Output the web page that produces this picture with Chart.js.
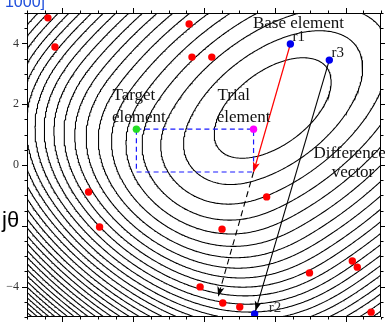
<!DOCTYPE html>
<html><head><meta charset="utf-8">
<script src="https://cdn.jsdelivr.net/npm/chart.js@4/dist/chart.umd.min.js"></script>
<style>html,body{margin:0;padding:0;background:#fff;overflow:hidden}canvas{display:block}</style>
</head><body>
<canvas id="c" width="385" height="322"></canvas>
<script>
// ---- population (red dots) ----
const populationX = [-4.41, -4.21, -0.42, -0.34, 0.22, -3.26, -2.95, 1.77, 0.51, -0.11, 0.53, 1.01, 2.98, 4.19, 4.33, 4.72];
const populationY = [4.84, 3.88, 4.64, 3.55, 3.55, -0.89, -2.04, -1.05, -2.11, -4.01, -4.54, -4.67, -3.55, -3.16, -3.36, -4.84];

// ---- randomly chosen vectors r1, r2, r3 (blue dots) ----
const vectorNames = ['r1', 'r2', 'r3'];
const vectorX = [2.44, 1.43, 3.54];
const vectorY = [3.98, -4.90, 3.45];

// ---- target, trial, mutant and the shifted difference vector end ----
const targetXY = [-1.91, 1.18];
const trialXY = [1.40, 1.18];
const mutantXY = [1.40, -0.23];
const shiftedXY = [0.40, -4.33];

// ---- axis ticks ----
const yTickValues = [-4, -2, 0, 2, 4];

// ---- objective function contour levels ----
const contourLevels = [1.7, 3.3, 4.9, 6.5, 8.1, 9.7, 11.3, 12.9, 14.5, 16.1, 17.7, 19.3, 20.9, 22.5,
  24.1, 25.7, 27.3, 28.9, 30.5, 32.1, 33.7, 35.3, 36.9, 38.5, 40.1, 41.7, 43.3, 44.9, 46.5, 48.1,
  49.7, 51.3, 52.9, 54.5, 56.1, 57.7];

// objective: tilted elliptic bowl, steeper towards the lower-left end of the valley
// and across the valley far from its axis
const CX = 1.94, CY = 1.875, L1 = 0.48, L2 = 1.52, U0 = 2, K3 = 0.3, V0 = 2, K4 = 0.08, P = 0.77;
function objective(x, y) {
  const dx = x - CX, dy = y - CY;
  const u = (dx + dy) / Math.SQRT2, v = (dx - dy) / Math.SQRT2;
  let f = L1 * u * u + L2 * v * v;
  const w = -u - U0;
  if (w > 0) f += K3 * w * w * w;
  const s = Math.abs(v) - V0;
  if (s > 0) f += K4 * s * s * s;
  return Math.pow(f, P);
}

// sample the objective on a grid
const NX = 241, NY = 241, X0 = -5.1, X1 = 5.1, Y0 = -5.1, Y1 = 5.1;
const gx = [], gy = [];
for (let i = 0; i < NX; i++) gx.push(X0 + (X1 - X0) * i / (NX - 1));
for (let j = 0; j < NY; j++) gy.push(Y0 + (Y1 - Y0) * j / (NY - 1));
const grid = new Float64Array(NX * NY);
for (let j = 0; j < NY; j++) for (let i = 0; i < NX; i++) grid[j * NX + i] = objective(gx[i], gy[j]);

// marching squares, chained into polylines
function traceLevel(lev) {
  const adj = new Map();
  const link = (a, b) => {
    if (!adj.has(a)) adj.set(a, []);
    if (!adj.has(b)) adj.set(b, []);
    adj.get(a).push(b); adj.get(b).push(a);
  };
  const H = (i, j) => (j * NX + i) * 2;       // edge (i,j)-(i+1,j)
  const V = (i, j) => (j * NX + i) * 2 + 1;   // edge (i,j)-(i,j+1)
  for (let j = 0; j < NY - 1; j++) {
    for (let i = 0; i < NX - 1; i++) {
      const a = grid[j * NX + i], b = grid[j * NX + i + 1];
      const c = grid[(j + 1) * NX + i + 1], d = grid[(j + 1) * NX + i];
      const idx = (a > lev ? 1 : 0) | (b > lev ? 2 : 0) | (c > lev ? 4 : 0) | (d > lev ? 8 : 0);
      if (idx === 0 || idx === 15) continue;
      const B = H(i, j), T = H(i, j + 1), L = V(i, j), R = V(i + 1, j);
      const ctr = (a + b + c + d) / 4 > lev;
      switch (idx) {
        case 1: case 14: link(L, B); break;
        case 2: case 13: link(B, R); break;
        case 3: case 12: link(L, R); break;
        case 4: case 11: link(R, T); break;
        case 6: case 9: link(B, T); break;
        case 7: case 8: link(L, T); break;
        case 5: if (ctr) { link(L, T); link(B, R); } else { link(L, B); link(R, T); } break;
        case 10: if (ctr) { link(L, B); link(R, T); } else { link(B, R); link(L, T); } break;
      }
    }
  }
  const point = (k) => {
    const e = k >> 1, i = e % NX, j = Math.floor(e / NX);
    if (k & 1) {
      const a = grid[j * NX + i], b = grid[(j + 1) * NX + i], t = (lev - a) / (b - a);
      return { x: gx[i], y: gy[j] + t * (gy[j + 1] - gy[j]) };
    }
    const a = grid[j * NX + i], b = grid[j * NX + i + 1], t = (lev - a) / (b - a);
    return { x: gx[i] + t * (gx[i + 1] - gx[i]), y: gy[j] };
  };
  const used = new Set(), lines = [];
  const walk = (start) => {
    const line = [start]; used.add(start);
    let prev = -1, cur = start;
    for (;;) {
      const nb = adj.get(cur);
      let next = -1;
      for (const n of nb) if (n !== prev && !used.has(n)) { next = n; break; }
      if (next < 0) { if (nb.includes(start) && line.length > 2) line.push(start); break; }
      line.push(next); used.add(next); prev = cur; cur = next;
    }
    return line.map(point);
  };
  for (const [k, nb] of adj) if (nb.length === 1 && !used.has(k)) lines.push(walk(k));
  for (const [k] of adj) if (!used.has(k)) lines.push(walk(k));
  return lines;
}

const datasets = [];
// population and special members (drawn on top)
datasets.push({ data: populationX.map((x, i) => ({ x, y: populationY[i] })), pointRadius: 3.7, pointBackgroundColor: '#ff0000', pointBorderWidth: 0, showLine: false, order: 0 });
datasets.push({ data: vectorX.map((x, i) => ({ x, y: vectorY[i] })), pointRadius: 3.7, pointBackgroundColor: '#0000ee', pointBorderWidth: 0, showLine: false, order: 0 });
datasets.push({ data: [{ x: targetXY[0], y: targetXY[1] }], pointRadius: 3.7, pointBackgroundColor: '#22dd22', pointBorderWidth: 0, showLine: false, order: 0 });
datasets.push({ data: [{ x: trialXY[0], y: trialXY[1] }], pointRadius: 3.7, pointBackgroundColor: '#ff00ff', pointBorderWidth: 0, showLine: false, order: 0 });
// crossover rectangle between target, trial and mutant
datasets.push({ data: [{ x: targetXY[0], y: targetXY[1] }, { x: trialXY[0], y: trialXY[1] }, { x: mutantXY[0], y: mutantXY[1] }, { x: targetXY[0], y: mutantXY[1] }, { x: targetXY[0], y: targetXY[1] }],
  showLine: true, pointRadius: 0, borderColor: '#1a1aff', borderWidth: 1.2, borderDash: [5, 3.5], order: 1 });
// base vector to mutant (red), difference vector r3 -> r2, and its scaled copy
datasets.push({ data: [{ x: vectorX[0], y: vectorY[0] }, { x: mutantXY[0], y: mutantXY[1] }], showLine: true, pointRadius: 0, borderColor: '#ff0000', borderWidth: 1.2, order: 1 });
datasets.push({ data: [{ x: vectorX[2], y: vectorY[2] }, { x: vectorX[1], y: vectorY[1] }], showLine: true, pointRadius: 0, borderColor: '#000', borderWidth: 1.1, order: 1 });
datasets.push({ data: [{ x: mutantXY[0], y: mutantXY[1] }, { x: shiftedXY[0], y: shiftedXY[1] }], showLine: true, pointRadius: 0, borderColor: '#000', borderWidth: 1.1, borderDash: [6, 4], order: 1 });
// contour lines
for (const lev of contourLevels) {
  for (const line of traceLevel(lev)) {
    if (line.length < 2) continue;
    datasets.push({ data: line, showLine: true, pointRadius: 0, borderColor: '#000', borderWidth: 1.05, tension: 0, order: 5 });
  }
}

function arrowHead(ctx, x0, y0, x1, y1, color, back) {
  const a = Math.atan2(y1 - y0, x1 - x0);
  const tx = x1 - back * Math.cos(a), ty = y1 - back * Math.sin(a);
  const len = 10, hw = 3.6;
  const bx = tx - len * Math.cos(a), by = ty - len * Math.sin(a);
  ctx.beginPath();
  ctx.moveTo(tx, ty);
  ctx.lineTo(bx - hw * Math.sin(a), by + hw * Math.cos(a));
  ctx.lineTo(bx + len * 0.25 * Math.cos(a), by + len * 0.25 * Math.sin(a));
  ctx.lineTo(bx + hw * Math.sin(a), by - hw * Math.cos(a));
  ctx.closePath();
  ctx.fillStyle = color; ctx.fill();
}

const decorations = {
  id: 'decorations',
  afterDatasetsDraw(chart) {
    const { ctx, scales: { x, y }, chartArea: ca } = chart;
    const px = v => x.getPixelForValue(v), py = v => y.getPixelForValue(v);
    ctx.save();
    ctx.beginPath(); ctx.rect(ca.left, ca.top, ca.right - ca.left, ca.bottom - ca.top); ctx.clip();
    arrowHead(ctx, px(vectorX[0]), py(vectorY[0]), px(mutantXY[0]), py(mutantXY[1]), '#ff0000', 0);
    arrowHead(ctx, px(vectorX[2]), py(vectorY[2]), px(vectorX[1]), py(vectorY[1]), '#000', 3);
    arrowHead(ctx, px(mutantXY[0]), py(mutantXY[1]), px(shiftedXY[0]), py(shiftedXY[1]), '#000', 0);
    ctx.restore();
  },
  afterDraw(chart) {
    const { ctx, scales: { x, y }, chartArea: ca } = chart;
    const px = v => x.getPixelForValue(v), py = v => y.getPixelForValue(v);
    ctx.save();
    // frame with outward ticks
    ctx.strokeStyle = '#000'; ctx.lineWidth = 1;
    ctx.strokeRect(Math.round(ca.left) + 0.5, Math.round(ca.top) + 0.5, Math.round(ca.right - ca.left) - 1, Math.round(ca.bottom - ca.top) - 1);
    ctx.beginPath();
    for (let v = -5; v <= 5.001; v += 0.5) {
      const major = Math.abs(v % 2) < 1e-6 && Math.abs(v) < 5;
      const t = major ? 5 : 2.5;
      const yy = Math.round(py(v)) + 0.5, xx = Math.round(px(v)) + 0.5;
      ctx.moveTo(ca.left, yy); ctx.lineTo(ca.left - t, yy);
      ctx.moveTo(ca.right, yy); ctx.lineTo(ca.right + t, yy);
      ctx.moveTo(xx, ca.top); ctx.lineTo(xx, ca.top - t);
      ctx.moveTo(xx, ca.bottom); ctx.lineTo(xx, ca.bottom + t);
    }
    ctx.stroke();

    // y tick labels
    ctx.fillStyle = '#333';
    ctx.font = '12px "Liberation Serif"';
    ctx.textAlign = 'right';
    ctx.textBaseline = 'middle';
    for (const v of yTickValues) ctx.fillText(v < 0 ? '\u2212' + (-v) : String(v), ca.left - 8, py(v));

    // annotations
    ctx.fillStyle = '#111';
    ctx.textBaseline = 'alphabetic';
    ctx.font = '17px "Liberation Serif"';
    ctx.textAlign = 'center';
    ctx.fillText('Base element', px(2.67), py(4.51));
    ctx.fillText('Target', px(-1.98), py(2.14));
    ctx.fillText('element', px(-1.84), py(1.41));
    ctx.fillText('Trial', px(0.84), py(2.14));
    ctx.fillText('element', px(1.12), py(1.41));
    ctx.fillText('vector', px(4.21), py(-0.39));
    ctx.textAlign = 'left';
    ctx.fillText('Difference', px(3.09), py(0.23));
    ctx.font = '15px "Liberation Serif"';
    ctx.fillText(vectorNames[0], px(2.50), py(4.08));
    ctx.fillText(vectorNames[2], px(3.60), py(3.55));
    ctx.fillStyle = '#333';
    ctx.fillText(vectorNames[1], px(1.83), py(-4.84));

    // outer labels
    ctx.fillStyle = '#fff';
    ctx.fillRect(0, 208, 21, 26);
    ctx.fillStyle = '#000';
    ctx.font = '22px "Liberation Sans"';
    ctx.textAlign = 'left';
    ctx.fillText('j\u03B8', 2, 227);
    ctx.fillStyle = '#1f4fdc';
    ctx.font = '16px "Liberation Sans"';
    ctx.textAlign = 'right';
    ctx.fillText('1000]', 45, 7);
    ctx.restore();
  }
};

new Chart(document.getElementById('c').getContext('2d'), {
  type: 'scatter',
  data: { datasets },
  options: {
    responsive: false, animation: false, devicePixelRatio: 1,
    layout: { padding: { left: 0, right: 2, top: 13, bottom: 5 } },
    plugins: { legend: { display: false }, tooltip: { enabled: false } },
    elements: { line: { tension: 0 } },
    scales: {
      x: { type: 'linear', min: -5, max: 5, display: false },
      y: {
        type: 'linear', min: -5, max: 5,
        afterFit(s) { s.width = 27; },
        grid: { display: false }, border: { display: false },
        ticks: { display: false }
      }
    }
  },
  plugins: [decorations]
});
</script>
</body></html>
